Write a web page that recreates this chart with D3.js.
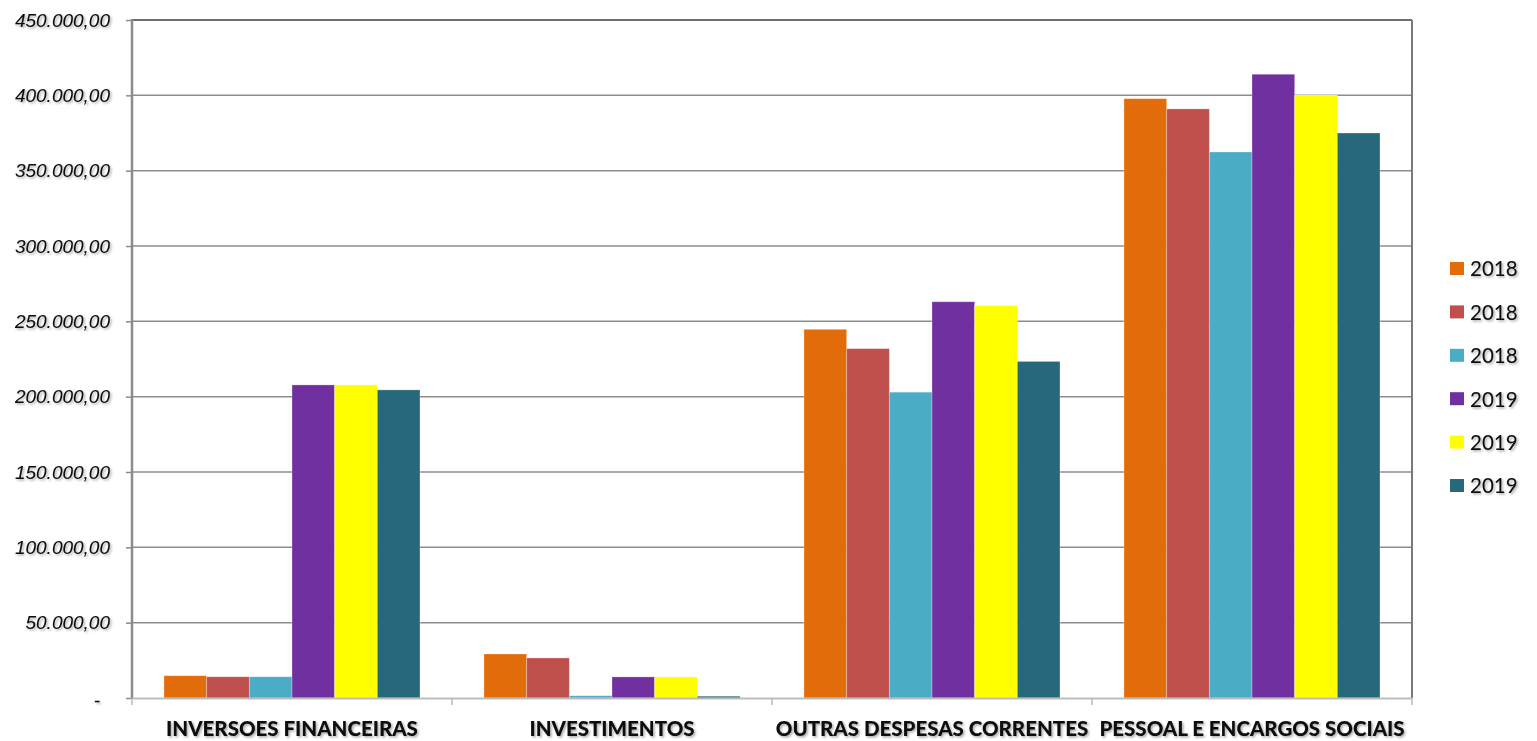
<!DOCTYPE html>
<html><head><meta charset="utf-8">
<script src="https://cdn.jsdelivr.net/npm/d3@7"></script>
<style>body{margin:0;background:#fff}svg{display:block}</style>
</head><body>
<svg id="c" width="1537" height="741"></svg>
<script>
const categories = ["INVERSOES FINANCEIRAS","INVESTIMENTOS","OUTRAS DESPESAS CORRENTES","PESSOAL E ENCARGOS SOCIAIS"];
const seriesNames = ["2018","2018","2018","2019","2019","2019"];
const seriesColors = ["#E36C0A","#C0504D","#4BACC6","#7030A0","#FFFF00","#27697B"];
const s1 = [14800, 29200, 244700, 397800];
const s2 = [14100, 26600, 231900, 391000];
const s3 = [14100, 1500, 203000, 362400];
const s4 = [207800, 14000, 263000, 414000];
const s5 = [207800, 14000, 260400, 400200];
const s6 = [204500, 1200, 223400, 375000];
const yTicks = [0,50000,100000,150000,200000,250000,300000,350000,400000,450000];
const seriesValues = [s1,s2,s3,s4,s5,s6];

const svg = d3.select("#c");
const defs = svg.append("defs");
const f = defs.append("filter").attr("id","sh").attr("x","-10%").attr("y","-30%").attr("width","130%").attr("height","180%");
f.append("feDropShadow").attr("dx",1.5).attr("dy",1.5).attr("stdDeviation",1.2).attr("flood-color","#000").attr("flood-opacity",0.35);

const L=132, R=1412, T=20, B=698;
const x0 = d3.scaleBand().domain(categories).range([L,R]).paddingInner(0.2).paddingOuter(0.1);
const keys = d3.range(seriesNames.length);
const x1 = d3.scaleBand().domain(keys).range([0,x0.bandwidth()]);
const y = d3.scaleLinear().domain([0,450000]).range([B,T]);

// gridlines
svg.append("g").selectAll("line").data(yTicks.filter(d=>d>0 && d<450000)).join("line")
  .attr("x1",L).attr("x2",R).attr("y1",d=>y(d)).attr("y2",d=>y(d))
  .attr("stroke","#8c8c8c").attr("stroke-width",1.5);

// y axis
const fmt = v => v===0 ? "-" : d3.format(",.2f")(v).replace(/,/g,"#").replace(/\./g,",").replace(/#/g,".");
const yAxis = d3.axisLeft(y).tickValues(yTicks).tickSize(6).tickFormat(fmt);
const gy = svg.append("g").attr("transform",`translate(${L},0)`).call(yAxis);
gy.select(".domain").remove();
gy.selectAll(".tick line").attr("stroke","#8c8c8c").attr("stroke-width",1.5);
gy.selectAll(".tick text").attr("x",-22).attr("fill","#0a0a0a")
  .style("font-family","'Liberation Sans', Arial, sans-serif").style("font-style","italic")
  .style("font-size","19px").attr("filter","url(#sh)");
gy.selectAll(".tick").filter(d=>d===0).select("text").attr("x",-32).attr("dy","0.45em");

// bars
const groups = svg.append("g").selectAll("g").data(categories).join("g")
  .attr("transform",d=>`translate(${x0(d)},0)`);
groups.selectAll("rect").data((d,i)=>keys.map(k=>({k, v:seriesValues[k][i]}))).join("rect")
  .attr("x",d=>x1(d.k)).attr("width",x1.bandwidth())
  .attr("y",d=>y(d.v)).attr("height",d=>B-y(d.v))
  .attr("fill",d=>seriesColors[d.k])
  .attr("stroke","rgba(255,255,255,0.35)").attr("stroke-width",0.8);

// frame
svg.append("line").attr("x1",L).attr("x2",R).attr("y1",T).attr("y2",T).attr("stroke","#6e6e6e").attr("stroke-width",2);
svg.append("line").attr("x1",R).attr("x2",R).attr("y1",T).attr("y2",B).attr("stroke","#7a7a7a").attr("stroke-width",2);
svg.append("line").attr("x1",L).attr("x2",L).attr("y1",T-1).attr("y2",B+1).attr("stroke","#8c8c8c").attr("stroke-width",2.5);

// x axis
const xAxis = d3.axisBottom(x0).tickSize(0).tickPadding(23);
const gx = svg.append("g").attr("transform",`translate(0,${B})`).call(xAxis);
gx.select(".domain").attr("stroke","#bdbdbd").attr("stroke-width",2);
gx.selectAll(".tick text").attr("fill","#0a0a0a")
  .style("font-family","Lato, 'Open Sans', sans-serif").style("font-weight","900")
  .style("font-size","20.5px").attr("filter","url(#sh)");
svg.append("g").selectAll("line").data(categories.map((c,i)=>i===0?L:x0(c)-x0.step()*0.1).concat([R])).join("line")
  .attr("x1",d=>d).attr("x2",d=>d).attr("y1",B).attr("y2",B+7)
  .attr("stroke","#bdbdbd").attr("stroke-width",1.5);

// legend
const lg = svg.append("g").attr("transform","translate(1450,262)");
const li = lg.selectAll("g").data(keys).join("g").attr("transform",k=>`translate(0,${k*43.4})`);
li.append("rect").attr("width",14).attr("height",13).attr("fill",k=>seriesColors[k]);
li.append("text").attr("x",20).attr("y",7).attr("dy","0.36em").text(k=>seriesNames[k])
  .attr("fill","#0a0a0a").style("font-family","Lato, 'Open Sans', sans-serif").style("font-size","20.5px")
  .attr("filter","url(#sh)");
</script>
</body></html>
